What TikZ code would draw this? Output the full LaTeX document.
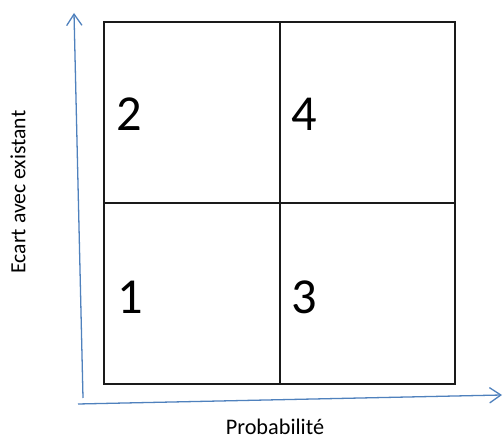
\documentclass[tikz,border=0pt]{standalone}
\usepackage{fontspec}
\setmainfont{Carlito}
\usepackage{tikz}
\usetikzlibrary{arrows.meta}
\definecolor{AxisBlue}{HTML}{4F81BD}
\definecolor{GridLine}{HTML}{1A1A1A}

\begin{document}
\begin{tikzpicture}[x=1cm,y=1cm,>={Straight Barb[length=0.34cm,width=0.46cm]}]
  \fill[white] (0,0) rectangle (15.09,13.17);
  \useasboundingbox (0,0) rectangle (15.09,13.17);
  % matrix frame
  \draw[line width=1.5pt,color=GridLine] (3.12,1.65) rectangle (13.65,12.51);
  \draw[line width=1.5pt,color=GridLine] (8.40,1.65)--(8.40,12.51);
  \draw[line width=1.5pt,color=GridLine] (3.12,7.08)--(13.65,7.08);
  % quadrant numbers
  \node[font=\fontsize{43}{50}\selectfont,inner sep=0pt] (q2) at (3.87,9.75) {2};
  \node[font=\fontsize{43}{50}\selectfont,inner sep=0pt] (q4) at (9.13,9.75) {4};
  \node[font=\fontsize{43}{50}\selectfont,inner sep=0pt] (q1) at (3.90,4.26) {1};
  \node[font=\fontsize{43}{50}\selectfont,inner sep=0pt] (q3) at (9.12,4.26) {3};
  % axes
  \coordinate (yfoot) at (2.49,1.23);
  \coordinate (ytip) at (2.22,12.78);
  \coordinate (xfoot) at (2.34,1.05);
  \coordinate (xtip) at (15.06,1.32);
  \draw[->,line width=1.1pt,color=AxisBlue] (yfoot)--(ytip);
  \draw[->,line width=1.1pt,color=AxisBlue] (xfoot)--(xtip);
  \node[font=\fontsize{18.5}{22}\selectfont,rotate=90,inner sep=0pt] (ylab) at (0.54,7.41) {Ecart avec existant};
  \node[font=\fontsize{19}{22}\selectfont,inner sep=0pt] (xlab) at (8.25,0.36) {Probabilité};
\end{tikzpicture}
\end{document}
